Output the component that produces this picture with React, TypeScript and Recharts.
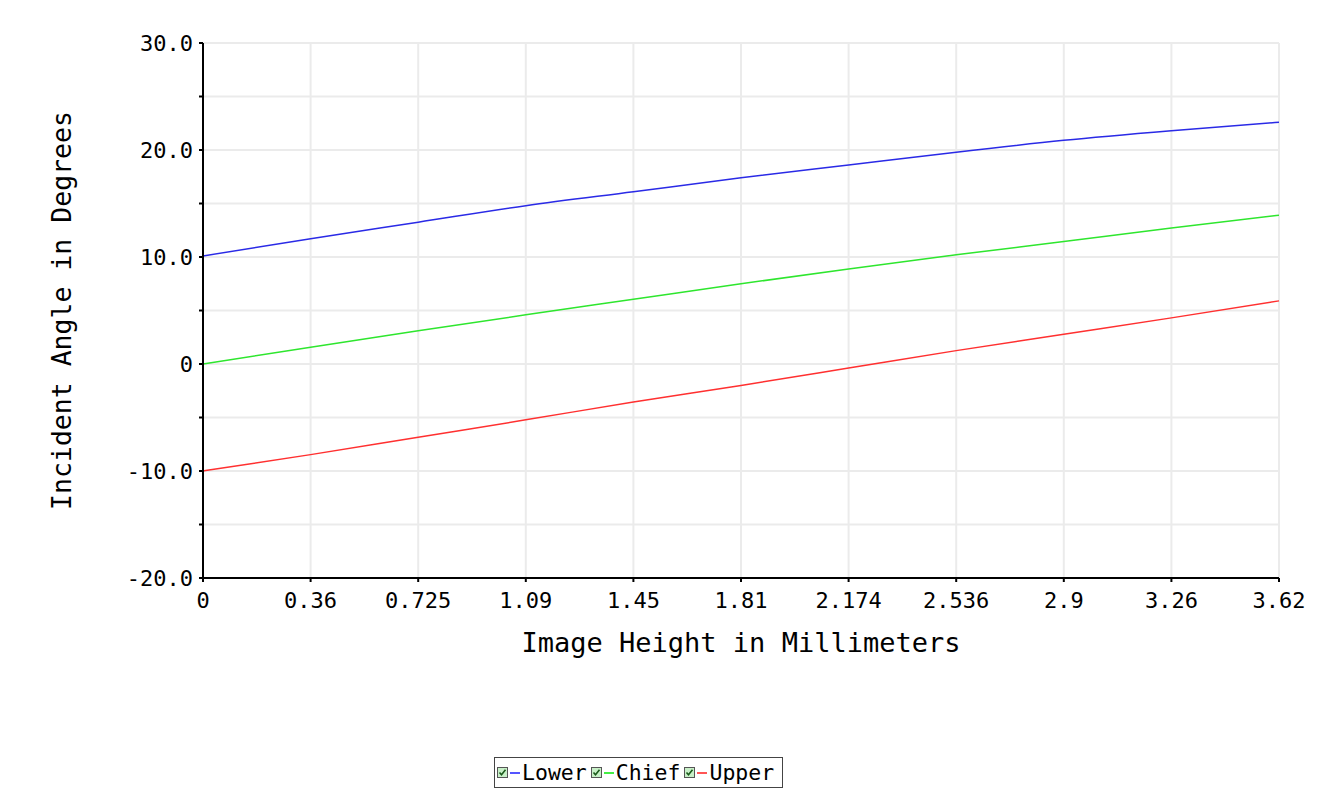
import React from "react";
import {
  LineChart,
  Line,
  XAxis,
  YAxis,
  CartesianGrid,
  Legend,
  ReferenceLine,
} from "recharts";

const imageHeights = [0, 0.362, 0.724, 1.086, 1.448, 1.81, 2.172, 2.534, 2.896, 3.258, 3.62];
const lowerAngles = [10.1, 11.7, 13.25, 14.8, 16.1, 17.4, 18.6, 19.8, 20.9, 21.8, 22.6];
const chiefAngles = [0, 1.56, 3.1, 4.6, 6.05, 7.5, 8.88, 10.2, 11.45, 12.72, 13.9];
const upperAngles = [-10, -8.47, -6.84, -5.22, -3.55, -2.0, -0.38, 1.25, 2.78, 4.31, 5.9];

const xTickLabels = ["0", "0.36", "0.725", "1.09", "1.45", "1.81", "2.174", "2.536", "2.9", "3.26", "3.62"];
const yTicks = [-20, -15, -10, -5, 0, 5, 10, 15, 20, 25, 30];

const seriesInfo = [
  { key: "lower", name: "Lower", color: "#2a2ae6", legendColor: "#5555ff" },
  { key: "chief", name: "Chief", color: "#2ee62e", legendColor: "#44ee44" },
  { key: "upper", name: "Upper", color: "#ff3030", legendColor: "#ff5555" },
];

const data = imageHeights.map((h, i) => ({
  h,
  lower: lowerAngles[i],
  chief: chiefAngles[i],
  upper: upperAngles[i],
}));

const FONT = "'DejaVu Sans Mono', monospace";

const formatY = (v: number) => {
  if (v % 10 !== 0) return "";
  return v === 0 ? "0" : v.toFixed(1);
};

const CheckIcon = () => (
  <svg width={11} height={11} style={{ display: "block" }}>
    <rect x={0.5} y={0.5} width={10} height={10} fill="#c8f0c8" stroke="#555" />
    <path d="M2.5 5.5 L4.5 7.8 L8.5 2.8" fill="none" stroke="#1a5a1a" strokeWidth={1.6} />
  </svg>
);

const LegendBox = () => (
  <div
    style={{
      display: "flex",
      alignItems: "center",
      border: "1px solid #444",
      padding: "2px 8px 2px 2px",
      fontFamily: FONT,
      fontSize: 21.5,
      background: "#fff",
      height: 25,
    }}
  >
    {seriesInfo.map((s, i) => (
      <div key={s.key} style={{ display: "flex", alignItems: "center", marginLeft: i === 0 ? 0 : 4 }}>
        <CheckIcon />
        <div style={{ width: 10, height: 2, background: s.legendColor, margin: "0 2px 0 2px" }} />
        <span style={{ color: "#000" }}>{s.name}</span>
      </div>
    ))}
  </div>
);

const App: React.FC = () => {
  return (
    <div style={{ background: "#fff", width: 1320, height: 780 }}>
      <LineChart
        width={1320}
        height={780}
        data={data}
        margin={{ top: 35, right: 49, left: 0, bottom: 89 }}
      >
        <CartesianGrid stroke="#ebebeb" strokeWidth={2} />
        <ReferenceLine segment={[{ x: 0, y: 28 }, { x: 0, y: 30 }]} stroke="#8c8c8c" strokeWidth={2} />
        <ReferenceLine segment={[{ x: 0, y: -20 }, { x: 0, y: -18 }]} stroke="#8c8c8c" strokeWidth={2} />
        <ReferenceLine segment={[{ x: 0, y: -20 }, { x: 0.074, y: -20 }]} stroke="#8c8c8c" strokeWidth={2} />
        <ReferenceLine segment={[{ x: 3.546, y: -20 }, { x: 3.62, y: -20 }]} stroke="#8c8c8c" strokeWidth={2} />
        <XAxis
          dataKey="h"
          type="number"
          domain={[0, 3.62]}
          ticks={imageHeights}
          tickFormatter={(_v: number, i: number) => xTickLabels[i]}
          height={90}
          stroke="#000"
          strokeWidth={2}
          tickSize={4}
          tickMargin={10}
          tick={{ fill: "#000", fontFamily: FONT, fontSize: 22 }}
          interval={0}
          label={{
            content: ({ viewBox }: any) => (
              <text
                x={viewBox.x + viewBox.width / 2}
                y={viewBox.y + 74}
                textAnchor="middle"
                fontFamily={FONT}
                fontSize={27}
                fill="#000"
              >
                Image Height in Millimeters
              </text>
            ),
          }}
        />
        <YAxis
          type="number"
          domain={[-20, 30]}
          ticks={yTicks}
          tickFormatter={formatY}
          width={195}
          stroke="#000"
          strokeWidth={2}
          tickSize={4}
          tickMargin={6}
          interval={0}
          tick={{ fill: "#000", fontFamily: FONT, fontSize: 22 }}
          label={{
            content: ({ viewBox }: any) => {
              const cx = 63;
              const cy = viewBox.y + viewBox.height / 2;
              return (
                <text
                  x={cx}
                  y={cy}
                  transform={`rotate(-90, ${cx}, ${cy})`}
                  textAnchor="middle"
                  fontFamily={FONT}
                  fontSize={26.5}
                  fill="#000"
                >
                  Incident Angle in Degrees
                </text>
              );
            },
          }}
        />
        {seriesInfo.map((s) => (
          <Line
            key={s.key}
            dataKey={s.key}
            name={s.name}
            type="monotone"
            stroke={s.color}
            strokeWidth={1.5}
            dot={false}
            isAnimationActive={false}
          />
        ))}
        <Legend
          content={() => <LegendBox />}
          wrapperStyle={{ left: 486, top: 749, width: "auto" }}
        />
      </LineChart>
    </div>
  );
};

export default App;
